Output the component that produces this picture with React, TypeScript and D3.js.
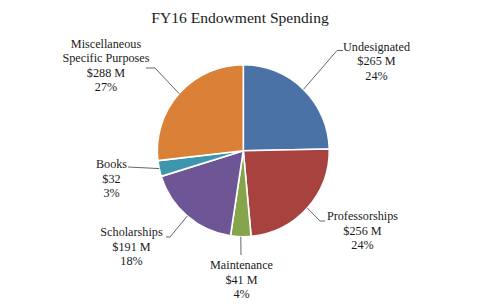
import React from "react";
import * as d3 from "d3";

const categories = ["Undesignated", "Professorships", "Maintenance", "Scholarships", "Books", "Miscellaneous Specific Purposes"];
const amounts = [265, 256, 41, 191, 32, 288];
const amountLabels = ["$265 M", "$256 M", "$41 M", "$191 M", "$32", "$288 M"];
const percentLabels = ["24%", "24%", "4%", "18%", "3%", "27%"];
const colors = ["#4a72a6", "#a8423f", "#86a44a", "#6e5596", "#3d96ae", "#da8137"];

// label layout: text lines, center x, first baseline, leader points after the slice edge
const labelLayout = [
  { lines: ["Undesignated"], x: 376.5, y: 50.5, leader: [[337, 50.5], [343, 50.5]] },
  { lines: ["Professorships"], x: 362.5, y: 220, leader: [[320, 221], [325, 221]] },
  { lines: ["Maintenance"], x: 241.5, y: 269, leader: [[241, 255]] },
  { lines: ["Scholarships"], x: 131.5, y: 236, leader: [[170, 237], [166, 237]] },
  { lines: ["Books"], x: 111.5, y: 168, leader: [[128, 167]] },
  { lines: ["Miscellaneous", "Specific Purposes"], x: 106, y: 47.5, leader: [[155, 68], [146, 68]] },
];

const W = 480, H = 308;
const cx = 243.3, cy = 150.7, R = 86;
const lineH = 14.5;
const font = "Liberation Serif";

export default function App() {
  const pie = d3.pie<number>().value((d) => d).sort(null);
  const arcs = pie(amounts);
  const arc = d3.arc<d3.PieArcDatum<number>>().innerRadius(0).outerRadius(R);
  const line = d3.line();

  return (
    <svg width={W} height={H} style={{ position: "absolute", left: 0, top: 0, background: "#fff" }}>
      <text x={240} y={23} textAnchor="middle" style={{ fontFamily: font }} fontSize={15.6} fill="#1a1a1a">
        FY16 Endowment Spending
      </text>
      <g transform={`translate(${cx},${cy})`}>
        {arcs.map((a, i) => (
          <path key={i} d={arc(a) || ""} fill={colors[i]} stroke="#fff" strokeWidth={1.6} strokeLinejoin="round">
            <title>{categories[i]}</title>
          </path>
        ))}
      </g>
      {arcs.map((a, i) => {
        const mid = (a.startAngle + a.endAngle) / 2;
        const ex = cx + R * Math.sin(mid);
        const ey = cy - R * Math.cos(mid);
        const pts: [number, number][] = [[ex, ey], ...(labelLayout[i].leader as [number, number][])];
        const lay = labelLayout[i];
        const allLines = [...lay.lines, amountLabels[i], percentLabels[i]];
        return (
          <g key={i}>
            <path d={line(pts) || ""} fill="none" stroke="#666" strokeWidth={1} />
            <text textAnchor="middle" style={{ fontFamily: font }} fontSize={12.2} fill="#1a1a1a">
              {allLines.map((t, j) => (
                <tspan key={j} x={lay.x} y={lay.y + j * lineH}>{t}</tspan>
              ))}
            </text>
          </g>
        );
      })}
    </svg>
  );
}
